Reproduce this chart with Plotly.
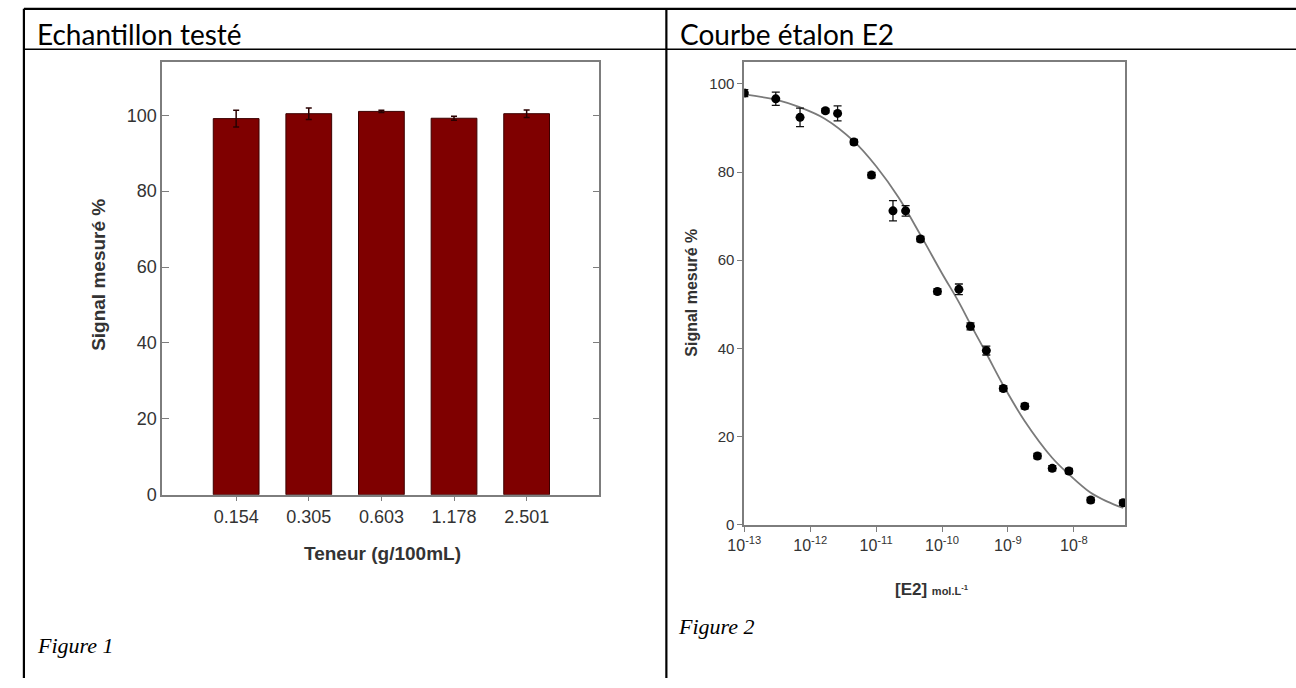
import plotly.graph_objects as go

W, H = 1296, 688

# ---------------- data: Figure 1 (bar chart) ----------------
bar_categories = ["0.154", "0.305", "0.603", "1.178", "2.501"]
bar_values = [99.1, 100.4, 101.0, 99.2, 100.4]
bar_errors = [2.2, 1.5, 0.3, 0.5, 1.0]
bar_yticks = [0, 20, 40, 60, 80, 100]

# ---------------- data: Figure 2 (calibration curve) ----------------
e2_conc = [1.0e-13, 3.0e-13, 7.0e-13, 1.7e-12, 2.6e-12, 4.6e-12, 8.5e-12,
           1.8e-11, 2.8e-11, 4.7e-11, 8.5e-11, 1.8e-10, 2.7e-10, 4.7e-10,
           8.5e-10, 1.8e-9, 2.8e-9, 4.7e-9, 8.4e-9, 1.8e-8, 5.6e-8]
e2_signal = [97.9, 96.6, 92.4, 93.9, 93.3, 86.8, 79.3,
             71.2, 71.2, 64.8, 52.9, 53.4, 45.0, 39.5,
             30.9, 26.9, 15.6, 12.8, 12.2, 5.6, 5.0]
e2_err = [0.8, 1.5, 2.1, 0.5, 1.7, 0.6, 0.6,
          2.3, 1.2, 0.6, 0.6, 1.2, 0.8, 1.0,
          0.6, 0.6, 0.6, 0.6, 0.6, 0.6, 0.6]
fit_conc = [1.0e-13, 3.2e-13, 6.9e-13, 1.66e-12, 4.57e-12, 1.0e-11, 2.19e-11,
            4.68e-11, 1.0e-10, 1.78e-10, 2.69e-10, 4.68e-10, 8.51e-10,
            1.78e-9, 4.68e-9, 8.32e-9, 1.78e-8, 3.16e-8, 5.6e-8]
fit_signal = [97.6, 96.3, 94.7, 92.1, 87.0, 81.3, 74.2,
              65.8, 57.0, 50.6, 45.5, 38.9, 31.6,
              23.6, 15.2, 11.5, 7.3, 5.3, 3.8]
log_tickvals = [1e-13, 1e-12, 1e-11, 1e-10, 1e-9, 1e-8]
log_ticktext = ["10<sup>-13</sup>", "10<sup>-12</sup>", "10<sup>-11</sup>",
                "10<sup>-10</sup>", "10<sup>-9</sup>", "10<sup>-8</sup>"]
e2_yticks = [0, 20, 40, 60, 80, 100]


def px(x):
    return x / W


def py(y):
    return 1 - y / H


AX = "#7d7d7d"
TXT = "#333333"
FONT = "Liberation Sans, Arial, sans-serif"

fig = go.Figure()

fig.add_trace(go.Bar(
    x=bar_categories, y=bar_values,
    marker=dict(color="#7f0000", line=dict(color="#3c0000", width=1)),
    width=0.63,
    error_y=dict(type="data", array=bar_errors, color="#2a0000",
                 thickness=1.5, width=3),
    xaxis="x", yaxis="y", showlegend=False,
))

fig.add_trace(go.Scatter(
    x=fit_conc, y=fit_signal, mode="lines",
    line=dict(color="#7a7a7a", width=1.8, shape="spline", smoothing=1.0),
    xaxis="x2", yaxis="y2", showlegend=False,
))

fig.add_trace(go.Scatter(
    x=e2_conc, y=e2_signal, mode="markers",
    marker=dict(color="#000000", size=9),
    error_y=dict(type="data", array=e2_err, color="#111111",
                 thickness=1.3, width=4),
    xaxis="x2", yaxis="y2", showlegend=False,
))

fig.update_layout(
    width=W, height=H,
    margin=dict(l=0, r=0, t=0, b=0),
    paper_bgcolor="white", plot_bgcolor="white",
    font=dict(family=FONT, color=TXT),
    xaxis=dict(
        domain=[px(147), px(590)], range=[-1.02, 5.0],
        showline=True, linecolor=AX, linewidth=1.5, mirror=True,
        ticks="outside", ticklen=5, tickcolor=AX,
        tickfont=dict(size=18, color=TXT), showgrid=False,
        anchor="y", fixedrange=True,
    ),
    yaxis=dict(
        domain=[py(502), py(63)], range=[0, 114],
        tickvals=bar_yticks,
        showline=True, linecolor=AX, linewidth=1.5, mirror="ticks",
        ticks="inside", ticklen=7, tickcolor=AX,
        tickfont=dict(size=18, color=TXT), showgrid=False, zeroline=False,
        anchor="x",
    ),
    xaxis2=dict(
        domain=[px(737), px(1123)], type="log", range=[-13, -7.22],
        tickvals=log_tickvals, ticktext=log_ticktext,
        showline=True, linecolor=AX, linewidth=2, mirror=True,
        ticks="outside", ticklen=5, tickcolor=AX,
        tickfont=dict(size=16, color=TXT), showgrid=False,
        anchor="y2",
    ),
    yaxis2=dict(
        domain=[py(532.5), py(62.7)], range=[0, 105],
        tickvals=e2_yticks,
        showline=True, linecolor=AX, linewidth=2, mirror=True,
        ticks="outside", ticklen=5, tickcolor=AX,
        tickfont=dict(size=15, color=TXT), showgrid=False, zeroline=False,
        anchor="x2",
    ),
)

# ---------------- table frame (document layout) ----------------
lines = [
    (7, 9, 1296, 9, 2.2),
    (7, 50, 1296, 50, 1.6),
    (7, 9, 7, 688, 2.2),
    (658, 9, 658, 688, 2.2),
]
for x0, y0, x1, y1, w in lines:
    fig.add_shape(type="line", xref="paper", yref="paper",
                  x0=px(x0), y0=py(y0), x1=px(x1), y1=py(y1),
                  line=dict(color="black", width=w))

HEAD = "Lato, Carlito, Calibri, sans-serif"
SERIF = "Liberation Serif, Times New Roman, serif"

annots = [
    dict(text="Echantillon testé", x=px(18), y=py(34), xanchor="left",
         yanchor="middle", font=dict(family=HEAD, size=28, color="black")),
    dict(text="Courbe étalon E2", x=px(670), y=py(34), xanchor="left",
         yanchor="middle", font=dict(family=HEAD, size=28, color="black")),
    dict(text="<i>Figure 1</i>", x=px(18), y=py(655), xanchor="left",
         yanchor="middle", font=dict(family=SERIF, size=22, color="black")),
    dict(text="<i>Figure 2</i>", x=px(668), y=py(636), xanchor="left",
         yanchor="middle", font=dict(family=SERIF, size=22, color="black")),
    dict(text="<b>Teneur (g/100mL)</b>", x=px(370), y=py(562),
         xanchor="center", yanchor="middle",
         font=dict(family=FONT, size=19, color=TXT)),
    dict(text="<b>Signal mesuré %</b>", x=px(83), y=py(279), textangle=-90,
         xanchor="center", yanchor="middle",
         font=dict(family=FONT, size=19, color=TXT)),
    dict(text="<b>Signal mesuré %</b>", x=px(684), y=py(297), textangle=-90,
         xanchor="center", yanchor="middle",
         font=dict(family=FONT, size=16, color=TXT)),
    dict(text="<b>[E2]</b> <span style='font-size:11px'><b>mol.L<sup>-1</sup></b></span>",
         x=px(927), y=py(598), xanchor="center", yanchor="middle",
         font=dict(family=FONT, size=17, color=TXT)),
]
for a in annots:
    fig.add_annotation(xref="paper", yref="paper", showarrow=False, **a)

fig.write_html(
    "out.html",
    config={"displayModeBar": False},
    post_script="document.body.style.margin='0';document.body.style.overflow='hidden';",
)
